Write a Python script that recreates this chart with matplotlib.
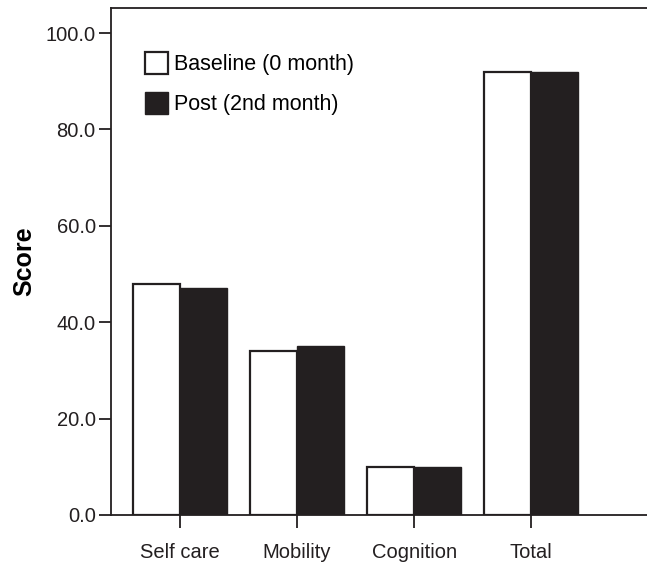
import matplotlib.pyplot as plt
import numpy as np
from matplotlib.patches import Patch

categories = ['Self care', 'Mobility', 'Cognition', 'Total']
baseline = [48, 34, 10, 92]
post = [47, 35, 10, 92]
yticks = [0, 20, 40, 60, 80, 100]

plt.rcParams['font.family'] = ['Liberation Sans', 'DejaVu Sans']
ink = '#231f20'

fig = plt.figure(figsize=(6.47, 5.63), dpi=100)
ax = fig.add_axes([0.1716, 0.0853, 0.8284, 0.9005])

x = np.arange(len(categories))
w = 0.4
ax.bar(x - w / 2, baseline, w, color='white', edgecolor=ink, linewidth=1.6)
ax.bar(x + w / 2, post, w, color=ink, edgecolor=ink, linewidth=1.0)

ax.set_xlim(-0.59, 3.99)
ax.set_ylim(0, 105.2)
ax.set_yticks(yticks)
ax.set_yticklabels([f'{v:.1f}' for v in yticks])
ax.set_xticks(x)
ax.set_xticklabels(categories)
ax.tick_params(axis='both', length=9, width=1.3, color=ink, labelsize=14.5, colors=ink)
ax.tick_params(axis='x', pad=11)
ax.tick_params(axis='y', pad=2)
for s in ['left', 'top', 'bottom']:
    ax.spines[s].set_linewidth(1.3)
    ax.spines[s].set_color(ink)
ax.spines['right'].set_visible(False)

ax.set_ylabel('Score', fontsize=18, fontweight='bold', labelpad=7)

legend_elements = [
    Patch(facecolor='white', edgecolor=ink, linewidth=1.6, label='Baseline (0 month)'),
    Patch(facecolor=ink, edgecolor=ink, label='Post (2nd month)'),
]
ax.legend(handles=legend_elements, loc='upper left', bbox_to_anchor=(0.063, 0.913),
          frameon=False, fontsize=15.5, handlelength=1.1, handleheight=1.2,
          handletextpad=0.28, labelspacing=0.75, borderpad=0, borderaxespad=0)

plt.savefig('out.png', dpi=100)
